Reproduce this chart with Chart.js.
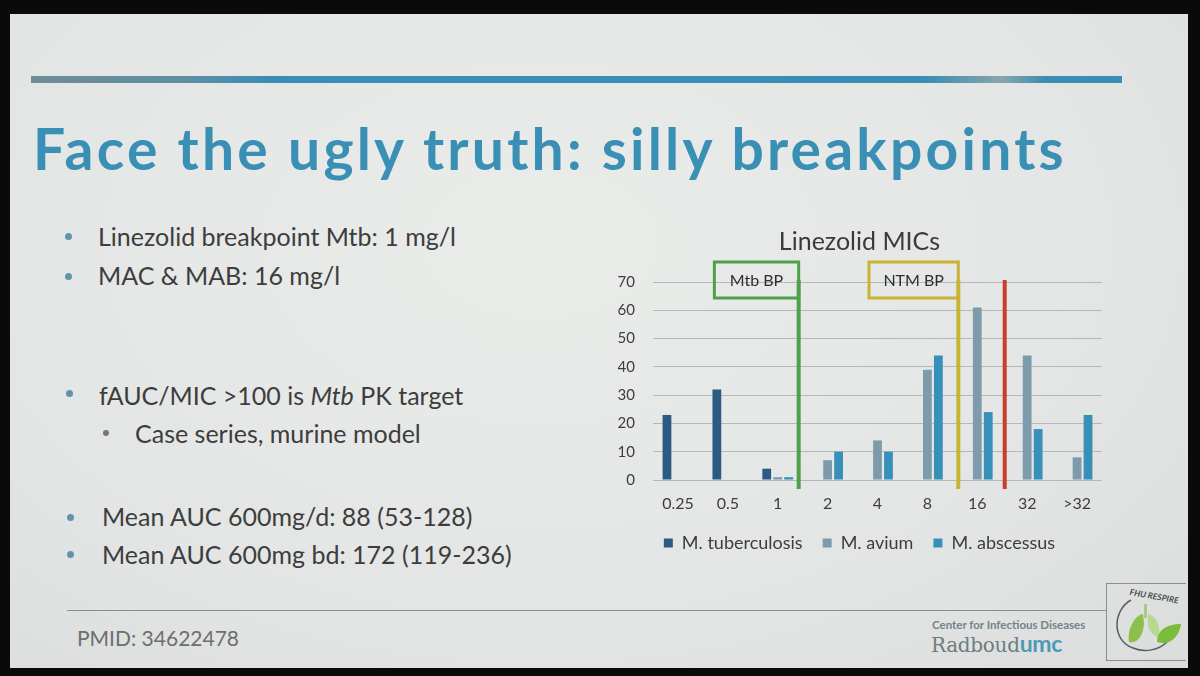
<!DOCTYPE HTML><html><head>
<meta name="viewport" content="width=device-width, initial-scale=1">
<style>
    html, body {
      margin: 0;
      padding: 0;
      background: #0a0a0a;
      font-family: Lato, "Open Sans", Arial;
    }
    .slide {
      position: absolute;
      left: 10px; top: 14px;
      width: 1178px; height: 654px;
      background: radial-gradient(ellipse at 45% 35%, #eaecea 0%, #e3e6e4 60%, #dadddb 100%);
    }
    .rule {
      position: absolute;
      left: 31px; top: 76px; width: 1091px; height: 7px;
      background: linear-gradient(90deg, #6f8c96 0%, #5e8fa3 14%, #3a8db4 22%, #3a8db4 82%, #8aa4ac 89%, #3a8db4 93%);
    }
    .title {
      position: absolute;
      left: 33px; top: 120px;
      font-size: 57px; line-height: 1;
      font-weight: bold;
      letter-spacing: 3.2px;
      color: #3a8fb5;
      white-space: nowrap;
    }
    .txt {
      position: absolute;
      font-size: 25px; line-height: 1;
      color: #3d3d3d;
      white-space: nowrap;
    }
    .dot {
      position: absolute;
      width: 7px; height: 7px; border-radius: 50%;
      background: #5f95aa;
    }
    .dot.sub { background: #777; width: 6px; height: 6px; }
    .foot {
      position: absolute;
      left: 67px; top: 610px; width: 1039px; height: 1px;
      background: #8b8f8e;
    }
    .pmid {
      position: absolute; left: 77px; top: 627px;
      font-size: 21px; line-height: 1; color: #6e6e6e;
    }
    .cid {
      position: absolute; left: 932px; top: 619px;
      font-size: 11.5px; line-height: 1; font-weight: bold; color: #71848b;
    }
    .radb {
      position: absolute; left: 931px; top: 632px;
      font-family: "DejaVu Serif", serif;
      font-size: 20px; line-height: 1; color: #6d7e82; letter-spacing: -0.3px;
    }
    .radb span { color: #4d9ab5; font-family: Lato, sans-serif; font-weight: bold; font-size: 23px; }
    .logo {
      position: absolute; left: 1106px; top: 583px; width: 80px; height: 78px;
      border: 1px solid #8a8e8d; border-right: none; box-sizing: border-box;
    }
    .chartbox {
      position: absolute; left: 617px; top: 222px; width: 493px; height: 341px;
    }
</style>
</head>
<body>

<div class="slide"></div>
<div class="rule"></div>
<div class="title">Face the ugly truth: silly breakpoints</div>

<div class="dot" style="left:65px; top:233px;"></div>
<div class="txt" style="left:98px; top:224px;">Linezolid breakpoint Mtb: 1 mg/l</div>
<div class="dot" style="left:65px; top:273px;"></div>
<div class="txt" style="left:98px; top:263px;">MAC &amp; MAB: 16 mg/l</div>
<div class="dot" style="left:66px; top:390px;"></div>
<div class="txt" style="left:99px; top:383px;">fAUC/MIC &gt;100 is <i>Mtb</i> PK target</div>
<div class="dot sub" style="left:103px; top:430px;"></div>
<div class="txt" style="left:135px; top:421px;">Case series, murine model</div>
<div class="dot" style="left:67px; top:514px;"></div>
<div class="txt" style="left:102px; top:504px;">Mean AUC 600mg/d: 88 (53-128)</div>
<div class="dot" style="left:67px; top:551px;"></div>
<div class="txt" style="left:102px; top:542px;">Mean AUC 600mg bd: 172 (119-236)</div>

<div class="foot"></div>
<div class="pmid">PMID: 34622478</div>
<div class="cid">Center for Infectious Diseases</div>
<div class="radb">Radboud<span>umc</span></div>
<div class="logo">
  <svg width="79" height="76" viewBox="0 0 79 76">
    <path d="M24 16 C6 26 4 56 26 64 C38 69 52 66 60 58" fill="none" stroke="#5a5e5d" stroke-width="1.5"/>
    <text x="22" y="14" font-family="Lato" font-weight="bold" font-style="italic" font-size="8.5" fill="#4a4e4d" transform="rotate(10 40 14)">FHU RESPIRE</text>
    <rect x="37" y="20" width="3" height="14" fill="#a9c98a"/>
    <path d="M36 30 C26 32 20 48 22 58 C30 60 36 52 37 40 Z" fill="#8cc04a"/>
    <path d="M41 30 C50 32 54 44 52 54 C46 52 41 46 41 40 Z" fill="#b7d88e"/>
    <path d="M50 58 C50 46 60 40 74 40 C72 54 62 62 50 58 Z" fill="#7cbc3c"/>
  </svg>
</div>

<div class="chartbox"><canvas id="myChart"></canvas></div>

<script src="https://cdn.jsdelivr.net/npm/chart.js@4.4.1/dist/chart.umd.min.js"></script>
<script>
var micLabels = ['0.25', '0.5', '1', '2', '4', '8', '16', '32', '>32'];
var tuberculosis = [23, 32, 4, 0, 0, 0, 0, 0, 0];
var avium = [0, 0, 1, 7, 14, 39, 61, 44, 8];
var abscessus = [0, 0, 1, 10, 10, 44, 24, 18, 23];
var yTicks = [0, 10, 20, 30, 40, 50, 60, 70];

// breakpoint markers, position given as category index
var bpLines = [
    { label: 'Mtb BP', at: 2.42, boxFrom: 0.73, color: '#4fa04b' },
    { label: 'NTM BP', at: 5.62, boxFrom: 3.83, color: '#c9b336' },
    { label: '', at: 6.55, boxFrom: null, color: '#cc3b2b' }
];

var bpPlugin = {
    id: 'bp',
    afterDatasetsDraw: function(chart) {
        var ctx = chart.ctx;
        var x = chart.scales.x, y = chart.scales.y;
        var top = y.getPixelForValue(70);
        var bottom = y.getPixelForValue(0);
        ctx.save();
        bpLines.forEach(function(bp) {
            var px = x.getPixelForValue(bp.at);
            if (bp.boxFrom !== null) {
                var bx = x.getPixelForValue(bp.boxFrom);
                ctx.strokeStyle = bp.color;
                ctx.lineWidth = 3;
                ctx.strokeRect(bx, top - 20, px - bx, 36);
                ctx.fillStyle = '#2e2e2e';
                ctx.font = '16px Lato';
                ctx.textAlign = 'center';
                ctx.textBaseline = 'middle';
                ctx.fillText(bp.label, (bx + px) / 2, top - 1);
            }
            ctx.fillStyle = bp.color;
            ctx.fillRect(px - 2, top - 2, 4, bottom - top + 11);
        });
        ctx.restore();
    }
};

var ctx = document.getElementById('myChart');
var myChart = new Chart(ctx, {
    type: 'bar',
    data: {
        labels: micLabels,
        datasets: [{
            label: 'M. tuberculosis',
            data: tuberculosis,
            backgroundColor: '#2c5a82'
        }, {
            label: 'M. avium',
            data: avium,
            backgroundColor: '#7e9bab'
        }, {
            label: 'M. abscessus',
            data: abscessus,
            backgroundColor: '#3790b7'
        }]
    },
    plugins: [bpPlugin],
    options: {
        responsive: true,
        maintainAspectRatio: false,
        animation: false,
        layout: { padding: { left: 0, right: 8, top: 0, bottom: 1 } },
        datasets: { bar: { categoryPercentage: 0.66, barPercentage: 0.8 } },
        plugins: {
            title: {
                display: true,
                text: 'Linezolid MICs',
                color: '#3a3a3a',
                font: { family: 'Lato', size: 25, weight: 'normal' },
                padding: { top: 5, bottom: 25 }
            },
            legend: {
                position: 'bottom',
                labels: {
                    color: '#3d3d3d',
                    font: { family: 'Lato', size: 18 },
                    boxWidth: 9, boxHeight: 9,
                    padding: 20
                }
            },
            tooltip: { enabled: false }
        },
        scales: {
            x: {
                grid: { display: false, drawTicks: false },
                border: { display: false },
                ticks: { color: '#3d3d3d', font: { family: 'Lato', size: 16 }, padding: 14 },
                afterFit: function(scale) { scale.height = 34; }
            },
            y: {
                min: 0, max: 70,
                afterBuildTicks: function(scale) {
                    scale.ticks = yTicks.map(function(v) { return { value: v }; });
                },
                grid: { color: '#b4b8b7', drawTicks: false },
                border: { display: false },
                ticks: { color: '#3d3d3d', font: { family: 'Lato', size: 15 }, padding: 18 },
                afterFit: function(scale) { scale.width = 36; }
            }
        }
    }
});
</script>

</body></html>
